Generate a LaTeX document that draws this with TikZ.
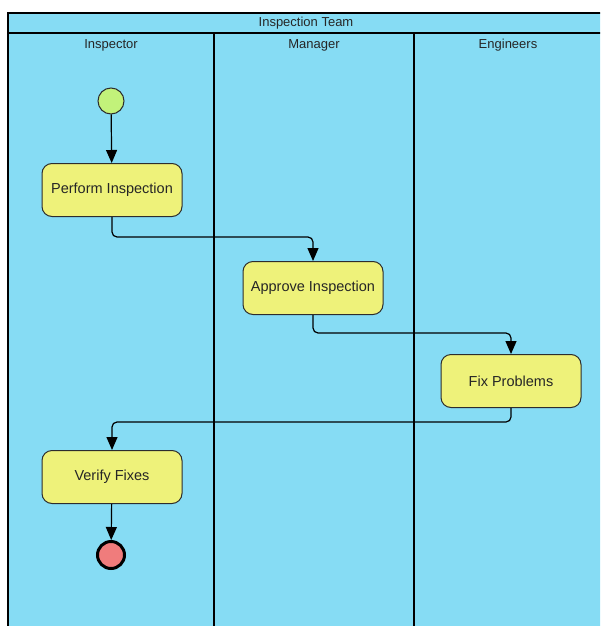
\documentclass[tikz,border=0pt]{standalone}
\usepackage{fontspec}
\setmainfont{Liberation Sans}
\usetikzlibrary{arrows.meta,positioning}
\definecolor{laneblue}{RGB}{134,220,244}
\definecolor{actyellow}{RGB}{238,242,122}
\definecolor{startgreen}{RGB}{194,242,122}
\definecolor{endred}{RGB}{240,124,124}
\definecolor{edgegray}{RGB}{45,45,45}

\begin{document}
\begin{tikzpicture}[x=1pt,y=-1pt,
  action/.style={draw=edgegray, fill=actyellow, rounded corners=10pt, line width=1pt,
    minimum width=140pt, minimum height=53pt, text=black!85, font=\fontsize{14.5}{16}\selectfont},
  initial/.style={circle, draw=edgegray, fill=startgreen, line width=1pt, minimum size=26pt, inner sep=0pt},
  final/.style={circle, draw=black, fill=endred, line width=3pt, minimum size=27pt, inner sep=0pt},
  lanehead/.style={text=black!85, font=\fontsize{13}{14}\selectfont},
  flow/.style={-{Triangle[length=13pt,width=11pt]}, line width=1.2pt, rounded corners=5pt}]
\clip (0,0) rectangle (600,626);
\fill[white] (0,0) rectangle (600,626);

\fill[laneblue] (8,13) rectangle (604,640);
\draw[line width=1.5pt] (8,13) rectangle (604,640);
\draw[line width=2.5pt] (8,33) -- (604,33);
\draw[line width=1.2pt] (214,33) -- (214,640);
\draw[line width=1.2pt] (414,33) -- (414,640);

\node[lanehead] (team) at (306,23) {Inspection Team};
\node[lanehead] (inspector) at (111,45) {Inspector};
\node[lanehead] (manager) at (314,45) {Manager};
\node[lanehead] (engineers) at (508,45) {Engineers};

\node[initial] (start) at (111,101) {};
\node[action] (perform) at (112,190) {Perform Inspection};
\node[action] (approve) at (313,288) {Approve Inspection};
\node[action] (fix) at (511,381) {Fix Problems};
\node[action] (verify) at (112,477) {Verify Fixes};
\node[final] (stop) at (111,555) {};

\draw[flow] (start) -- (perform);
\draw[flow] (perform.south) -- ++(0,20) -| (approve.north);
\draw[flow] (approve.south) -- ++(0,18) -| (fix.north);
\draw[flow] (fix.south) -- ++(0,14) -| (verify.north);
\draw[flow] (verify) -- (stop);
\end{tikzpicture}
\end{document}
